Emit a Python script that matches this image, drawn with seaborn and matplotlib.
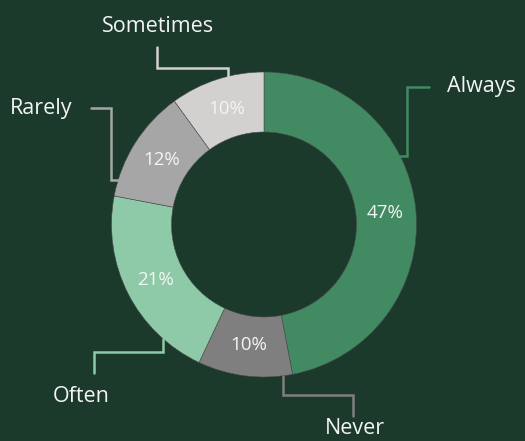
import matplotlib
matplotlib.use("Agg")
import matplotlib.pyplot as plt
import seaborn as sns
import numpy as np

# ── Data ────────────────────────────────────────────────────────────────────
categories = ["Always", "Never", "Often", "Rarely", "Sometimes"]
shares = [47, 10, 21, 12, 10]
slice_colors = ["#418a62", "#7f7f7f", "#8fcaa8", "#a6a6a6", "#d3d0d0"]

# ── Layout (pixel-like canvas units, y up) ─────────────────────────────────
BG = "#1b3a2b"
W, H = 525, 441
CX, CY = 264, 216.5
R_OUT, RING_W = 152.5, 60

# leader anchor angles (deg) and path offsets relative to the anchor point
anchor_deg = [26.7, -82.9, 228.4, 163.2, 103.7]
leader_steps = [
    [(7, 0), (0, 69), (22, 0)],     # Always
    [(0, -19), (70, 0), (0, -21)],  # Never
    [(0, -13), (-69, 0), (0, -21)], # Often
    [(-7, 0), (0, 72), (-20, 0)],   # Rarely
    [(0, 8), (-71, 0), (0, 21)],    # Sometimes
]
label_offset = [(18, 0, "left", "center"),
                (2, -13, "center", "center"),
                (-13, -24, "center", "center"),
                (-19, 0, "right", "center"),
                (1, 21, "center", "center")]

sns.set_theme(style="dark", rc={"axes.facecolor": BG, "figure.facecolor": BG})
plt.rcParams["font.family"] = ["Open Sans", "DejaVu Sans"]

fig = plt.figure(figsize=(5.25, 4.41), dpi=100)
ax = fig.add_axes([0, 0, 1, 1])
ax.set_facecolor(BG)

wedges, _, autotexts = ax.pie(
    shares, colors=slice_colors, startangle=90, counterclock=False,
    center=(CX, CY), radius=R_OUT, autopct="%d%%", pctdistance=0.795,
    wedgeprops=dict(width=RING_W, edgecolor="#4a4a4a", linewidth=0.4),
    textprops=dict(color="#f4f4f4", fontsize=13.5),
)

for i, name in enumerate(categories):
    a = np.deg2rad(anchor_deg[i])
    x, y = CX + R_OUT * np.cos(a), CY + R_OUT * np.sin(a)
    xs, ys = [x], [y]
    for dx, dy in leader_steps[i]:
        x, y = x + dx, y + dy
        xs.append(x)
        ys.append(y)
    ax.plot(xs, ys, color=slice_colors[i], lw=1.8, solid_joinstyle="miter")
    ox, oy, ha, va = label_offset[i]
    ax.text(x + ox, y + oy, name, color="#f4f4f4", fontsize=15.5, ha=ha, va=va)

ax.set_xlim(0, W)
ax.set_ylim(0, H)
ax.set_aspect("equal")
ax.axis("off")

fig.savefig("out.png", dpi=100, facecolor=BG)
